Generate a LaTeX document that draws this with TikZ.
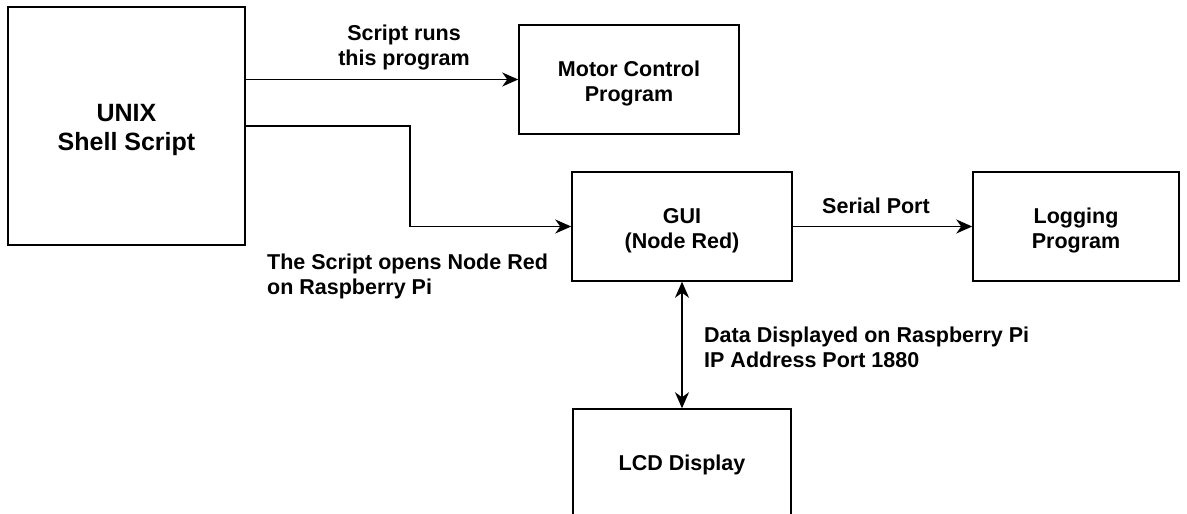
\documentclass[tikz,border=0pt]{standalone}
\usepackage{fontspec}
\setmainfont{Liberation Sans}
\usetikzlibrary{arrows.meta}
\begin{document}
\begin{tikzpicture}[x=1pt,y=-1pt,
  box/.style={draw,line width=1.5pt,inner sep=0pt},
  lbl/.style={inner sep=0pt,font=\bfseries\fontsize{21.5}{25}\selectfont},
  btext/.style={label={[lbl,align=center,yshift=-4pt]center:#1}},
  arr/.style={line width=1.5pt,-{Stealth[length=16pt,width=14pt,inset=5pt]}},
  darr/.style={line width=1.5pt,{Stealth[length=16pt,width=14pt,inset=5pt]}-{Stealth[length=16pt,width=14pt,inset=5pt]}}]
\clip (0,0) rectangle (1187,514);
\fill[white] (0,0) rectangle (1187,514);
\node[box,minimum width=237pt,minimum height=238pt,label={[lbl,align=center,yshift=-4pt,font=\bfseries\fontsize{25}{29}\selectfont]center:UNIX\\Shell Script}] (unix) at (126.5,126) {};
\node[box,minimum width=220pt,minimum height=109pt,btext={Motor Control\\Program}] (motor) at (629,79.5) {};
\node[box,minimum width=220pt,minimum height=109pt,btext={GUI\\(Node Red)}] (gui) at (682,226.5) {};
\node[box,minimum width=206pt,minimum height=109pt,btext={Logging\\Program}] (log) at (1076,226.5) {};
\node[box,minimum width=218pt,minimum height=140pt] (lcd) at (682,479) {};
\node[lbl] (lcdt) at (682,465) {LCD Display};
\draw[arr] (unix.east |- motor.west) -- (motor.west);
\draw[arr] (unix.east) -- ++(164,0) |- (gui.west);
\draw[arr] (gui.east) -- (log.west);
\draw[darr] (gui.south) -- (lcd.north);
\node[lbl,align=center,anchor=base] (l1) at (404,65) {Script runs\\ this program};
\node[lbl,align=left,anchor=base west] (l2) at (267,294) {The Script opens Node Red\\on Raspberry Pi};
\node[lbl,anchor=base] (l3) at (876,213) {Serial Port};
\node[lbl,align=left,anchor=base west] (l4) at (704,367) {Data Displayed on Raspberry Pi\\IP Address Port 1880};
\end{tikzpicture}
\end{document}
